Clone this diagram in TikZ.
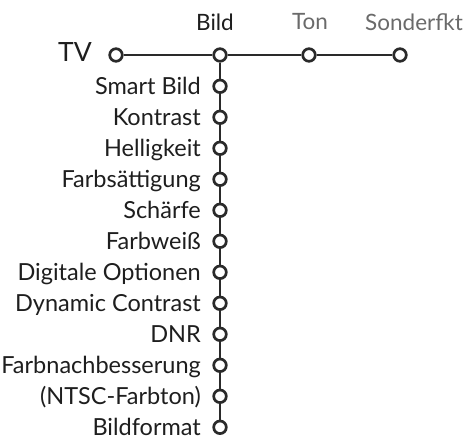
\documentclass[tikz,border=0pt]{standalone}
\usepackage{fontspec}
\setmainfont{Lato}
\definecolor{linec}{HTML}{2A2A2A}
\definecolor{txt}{HTML}{1E1E1E}
\definecolor{dim}{HTML}{6A6A6A}
\begin{document}
\begin{tikzpicture}[x=1pt,y=-1pt,
  dot/.style={circle,draw=linec,line width=2.7pt,fill=white,minimum size=12.6pt,inner sep=0pt},
  conn/.style={draw=linec,line width=2.2pt},
  lbl/.style={anchor=base east,inner sep=0pt,font=\fontsize{23.5}{26}\selectfont,text=txt},
  toplbl/.style={inner sep=0pt,font=\fontsize{22.5}{25}\selectfont},
]
\useasboundingbox (0,0) rectangle (467,440);
% top row
\node[dot] (tv) at (116,55) {};
\node[dot] (bild) at (220,55) {};
\node[dot] (ton) at (309,55) {};
\node[dot] (sonder) at (400,55) {};
\node[anchor=east,inner sep=0pt,font=\fontsize{26.5}{30}\selectfont,text=txt] (tvl) at (92,52) {TV};
\node[toplbl,text=txt] (bildl) at (215,22) {Bild};
\node[toplbl,text=dim] (tonl) at (310,22) {Ton};
\node[toplbl,text=dim] (sonderl) at (414,22) {Sonderfkt};
\draw[conn] (tv) -- (bild);
\draw[conn] (bild) -- (ton);
\draw[conn] (ton) -- (sonder);
% column
\foreach \i/\t in {0/Smart Bild,1/Kontrast,2/Helligkeit,3/Farbsättigung,4/Schärfe,5/Farbweiß,6/Digitale Optionen,7/Dynamic Contrast,8/DNR,9/Farbnachbesserung,10/(NTSC-Farbton),11/Bildformat}{
  \node[dot] (d\i) at (220,86.3+\i*31.0) {};
  \node[lbl] (l\i) at (201,94.3+\i*31.0) {\t};
}
\draw[conn] (bild) -- (d0);
\foreach \i [evaluate=\i as \j using int(\i+1)] in {0,...,10}{
  \draw[conn] (d\i) -- (d\j);
}
\end{tikzpicture}
\end{document}
